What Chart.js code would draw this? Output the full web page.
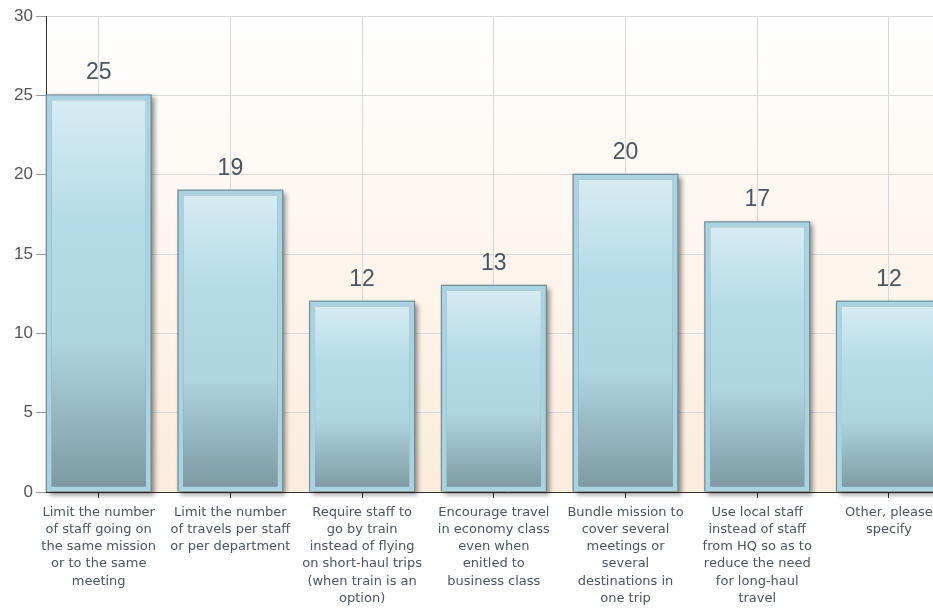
<!DOCTYPE html>
<html>
<head>
<meta charset="utf-8">
<script src="https://cdn.jsdelivr.net/npm/chart.js@4/dist/chart.umd.min.js"></script>
<style>
  html, body { margin: 0; padding: 0; background: #fff; overflow: hidden; }
  #wrap { width: 975px; height: 609px; position: relative; }
</style>
</head>
<body>
<div id="wrap"><canvas id="myChart"></canvas></div>
<script>
// Categories (already wrapped as in the picture)
const categories = [
  ["Limit the number", "of staff going on", "the same mission", "or to the same", "meeting"],
  ["Limit the number", "of travels per staff", "or per department"],
  ["Require staff to", "go by train", "instead of flying", "on short-haul trips", "(when train is an", "option)"],
  ["Encourage travel", "in economy class", "even when", "enitled to", "business class"],
  ["Bundle mission to", "cover several", "meetings or", "several", "destinations in", "one trip"],
  ["Use local staff", "instead of staff", "from HQ so as to", "reduce the need", "for long-haul", "travel"],
  ["Other, please", "specify"]
];
const counts = [25, 19, 12, 13, 20, 17, 12];
const yTicks = [0, 5, 10, 15, 20, 25, 30];

const ctx = document.getElementById("myChart").getContext("2d");

// plot background: white fading to light peach
const bgPlugin = {
  id: "bg",
  beforeDraw(chart) {
    const { ctx, chartArea: a } = chart;
    if (!a) return;
    const g = ctx.createLinearGradient(0, a.top, 0, a.bottom);
    g.addColorStop(0, "#ffffff");
    g.addColorStop(1, "#fbecdc");
    ctx.save();
    ctx.fillStyle = g;
    ctx.fillRect(a.left, a.top, a.right - a.left, a.bottom - a.top);
    ctx.restore();
  }
};

// dark outline + drop shadow under every bar
const shadowPlugin = {
  id: "barShadow",
  beforeDatasetsDraw(chart) {
    const ctx = chart.ctx;
    chart.getDatasetMeta(0).data.forEach(el => {
      const { x, y, base, width } = el.getProps(["x", "y", "base", "width"], true);
      ctx.save();
      ctx.shadowColor = "rgba(0,0,0,0.45)";
      ctx.shadowBlur = 5;
      ctx.shadowOffsetX = 3;
      ctx.shadowOffsetY = 3;
      ctx.fillStyle = "#6d8b96";
      ctx.fillRect(x - width / 2 - 1, y - 1, width + 2, base - y + 1);
      ctx.restore();
    });
  }
};

// value labels above bars
const valuePlugin = {
  id: "values",
  afterDatasetsDraw(chart) {
    const ctx = chart.ctx;
    const meta = chart.getDatasetMeta(0);
    ctx.save();
    ctx.font = "23px 'Liberation Sans', Arial, sans-serif";
    ctx.fillStyle = "#4a5560";
    ctx.textAlign = "center";
    ctx.textBaseline = "alphabetic";
    meta.data.forEach((el, i) => {
      ctx.fillText(String(counts[i]), el.x, el.y - 16);
    });
    ctx.restore();
  }
};

function barGradient(c) {
  const chart = c.chart;
  if (!chart.chartArea || c.type !== "data") return "#b4dbe8";
  const yS = chart.scales.y;
  const top = yS.getPixelForValue(c.parsed.y);
  const bottom = yS.getPixelForValue(0);
  const g = chart.ctx.createLinearGradient(0, top, 0, bottom);
  g.addColorStop(0, "#d8ecf3");
  g.addColorStop(0.32, "#b5dbe8");
  g.addColorStop(0.62, "#afd5e1");
  g.addColorStop(1, "#7b97a1");
  return g;
}

const chart = new Chart(ctx, {
  type: "bar",
  data: {
    datasets: [{
      data: counts.map((v, i) => ({ x: i, y: v })),
      backgroundColor: barGradient,
      borderColor: "#a9d3e1",
      borderWidth: 5,
      borderSkipped: false,
      categoryPercentage: 1,
      barPercentage: 0.79
    }]
  },
  options: {
    responsive: true,
    maintainAspectRatio: false,
    animation: false,
    layout: { padding: { top: 16, right: 7, left: 0, bottom: 0 } },
    plugins: {
      legend: { display: false },
      tooltip: { enabled: false }
    },
    scales: {
      x: {
        type: "linear",
        min: -0.4,
        max: 6.6,
        offset: false,
        afterBuildTicks: s => { s.ticks = categories.map((_, i) => ({ value: i })); },
        afterFit: s => { s.height = 117; },
        grid: { offset: false, color: "#d8d8d8", lineWidth: 1, tickLength: 6, tickColor: "#333", drawOnChartArea: true },
        border: { color: "#333", width: 1 },
        ticks: {
          autoSkip: false,
          maxRotation: 0,
          padding: 6,
          color: "#4a5560",
          font: { family: "'DejaVu Sans', Verdana, sans-serif", size: 13, lineHeight: 1.32 },
          callback: v => categories[v]
        }
      },
      y: {
        min: 0,
        max: 30,
        afterBuildTicks: s => { s.ticks = yTicks.map(v => ({ value: v })); },
        afterFit: s => { s.width = 46; },
        grid: { color: "#d8d8d8", lineWidth: 1, tickLength: 10, tickColor: "#999" },
        border: { color: "#333", width: 1 },
        ticks: {
          padding: 3,
          color: "#555",
          font: { family: "'Liberation Sans', Arial, sans-serif", size: 17 }
        }
      }
    }
  },
  plugins: [bgPlugin, shadowPlugin, valuePlugin]
});
</script>
</body>
</html>
